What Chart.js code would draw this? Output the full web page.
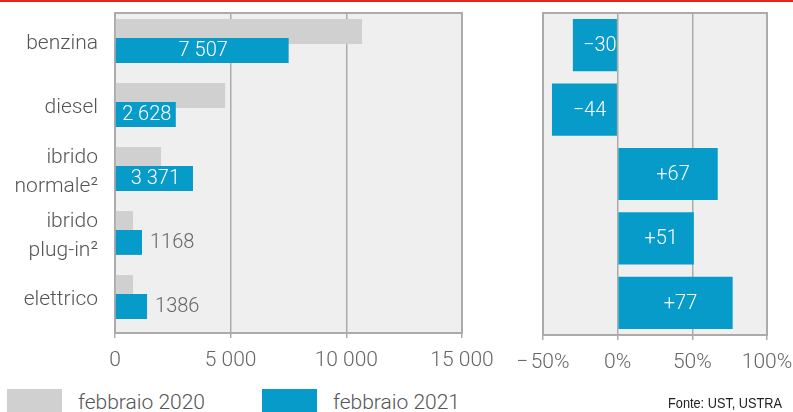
<!DOCTYPE html>
<html lang="it">
<head>
  <meta charset="UTF-8" />
  <title>Immatricolazioni febbraio</title>
  <script src="https://cdn.jsdelivr.net/npm/chart.js"></script>
  <style>
    * { box-sizing: border-box; }
    body {
      margin: 0;
      width: 793px;
      height: 412px;
      overflow: hidden;
      background: #fff;
      font-family: 'Roboto', sans-serif;
      font-weight: 300;
      color: #555;
      position: relative;
    }
    .topline {
      position: absolute; left: 0; top: 0; width: 793px; height: 2px;
      background: #e3241b;
    }
    .chart-left { position: absolute; left: 0; top: 0; width: 520px; height: 372px; }
    .chart-right { position: absolute; left: 500px; top: 0; width: 320px; height: 374px; }
    .legend { position: absolute; top: 389px; font-size: 21px; color: #555; }
    .legend span.box { position: absolute; top: 0; width: 55px; height: 24px; }
    .legend span.txt { position: absolute; top: 1px; white-space: nowrap; line-height: 24px; }
    .source {
      position: absolute; left: 668px; top: 394px;
      font-family: 'Liberation Sans', Arial, sans-serif;
      font-weight: normal;
      font-size: 15px; color: #222; white-space: nowrap;
      transform: scaleX(0.85); transform-origin: left top;
    }
  </style>
</head>
<body>
  <div class="topline"></div>
  <div class="chart-left"><canvas id="leftChart"></canvas></div>
  <div class="chart-right"><canvas id="rightChart"></canvas></div>

  <div class="legend" style="left:7px">
    <span class="box" style="left:0;background:#d0d0d0"></span>
    <span class="txt" style="left:71px">febbraio 2020</span>
  </div>
  <div class="legend" style="left:262px">
    <span class="box" style="left:0;background:#069bc9"></span>
    <span class="txt" style="left:71px">febbraio 2021</span>
  </div>
  <div class="source">Fonte: UST, USTRA</div>

  <script>
    // data
    const categories = ['benzina', 'diesel', ['ibrido', 'normale²'], ['ibrido', 'plug-in²'], 'elettrico'];
    const feb2020 = [10680, 4760, 1990, 780, 780];
    const feb2021 = [7507, 2628, 3371, 1168, 1386];
    const changePct = [-30, -44, 67, 51, 77];
    const leftTicks = [0, 5000, 10000, 15000];
    const rightTicks = [-50, 0, 50, 100];

    const GREY = '#d0d0d0';
    const BLUE = '#069bc9';
    const PLOT_BG = '#efefef';
    const LINE = '#ababab';
    const PAIR_NUDGE = -4; // the bar pairs sit a little above the row centre

    Chart.defaults.font.family = 'Roboto, sans-serif';
    Chart.defaults.font.size = 20;
    Chart.defaults.font.weight = 300;
    Chart.defaults.color = '#666';
    Chart.defaults.animation = false;

    function fmtNum(n) {
      const s = String(Math.abs(n));
      const out = (Math.abs(n) < 2000) ? s : s.replace(/\B(?=(\d{3})+(?!\d))/g, ' ');
      return (n < 0 ? '\u2212' : '') + out;
    }

    function fmtPct(n) {
      return (n < 0 ? '\u2212\u200A' + Math.abs(n) : String(n)) + '%';
    }

    // grey plot background and frame
    const plotBox = {
      id: 'plotBox',
      beforeDraw(chart) {
        const a = chart.chartArea, c = chart.ctx;
        c.save();
        c.fillStyle = PLOT_BG;
        c.fillRect(a.left, a.top, a.right - a.left, a.bottom - a.top);
        c.restore();
      },
      beforeDatasetsDraw(chart) {
        const a = chart.chartArea, c = chart.ctx;
        c.save();
        c.strokeStyle = LINE;
        c.lineWidth = 2;
        c.strokeRect(a.left, a.top, a.right - a.left, a.bottom - a.top);
        c.restore();
      }
    };

    // 2021 bars have to lie over the 2020 bars
    const drawOrder = {
      id: 'drawOrder',
      beforeDatasetsDraw(chart) {
        chart.ctx.save();
        chart.ctx.translate(0, PAIR_NUDGE);
      },
      beforeDatasetDraw(chart, args) {
        if (args.index === 0) return false;
        if (args.index === 1) chart.getDatasetMeta(0).controller.draw();
      },
      afterDatasetsDraw(chart) {
        chart.ctx.restore();
      }
    };

    // category names on the left, placed by the y scale
    const categoryNames = {
      id: 'categoryNames',
      afterDraw(chart) {
        const c = chart.ctx, y = chart.scales.y, a = chart.chartArea;
        c.save();
        c.font = '300 21px Roboto, sans-serif';
        c.fillStyle = '#555';
        c.textAlign = 'right';
        c.textBaseline = 'middle';
        categories.forEach((name, i) => {
          const lines = Array.isArray(name) ? name : [name];
          const cy = y.getPixelForValue(i);
          const lh = 29;
          lines.forEach((ln, k) => {
            c.fillText(ln, a.left - 17, cy - 1 + (k - (lines.length - 1) / 2) * lh);
          });
        });
        c.restore();
      }
    };

    const leftLabels = {
      id: 'leftLabels',
      afterDatasetsDraw(chart) {
        const c = chart.ctx;
        const meta = chart.getDatasetMeta(1);
        c.save();
        c.font = '300 20px Roboto, sans-serif';
        c.textBaseline = 'middle';
        meta.data.forEach((bar, i) => {
          const txt = fmtNum(feb2021[i]);
          const tw = c.measureText(txt).width;
          const w = bar.x - bar.base;
          if (w > tw + 4) {
            c.fillStyle = '#fff';
            c.textAlign = 'center';
            c.fillText(txt, (bar.x + bar.base) / 2 + 1, bar.y + 1);
          } else {
            c.fillStyle = '#666';
            c.textAlign = 'left';
            c.fillText(txt, bar.x + 8, bar.y + 1);
          }
        });
        c.restore();
      }
    };

    const rightLabels = {
      id: 'rightLabels',
      afterDatasetsDraw(chart) {
        const c = chart.ctx;
        const meta = chart.getDatasetMeta(0);
        c.save();
        c.font = '300 20px Roboto, sans-serif';
        c.textBaseline = 'middle';
        c.textAlign = 'center';
        c.fillStyle = '#fff';
        meta.data.forEach((bar, i) => {
          const v = changePct[i];
          const txt = v < 0 ? '\u2212' + Math.abs(v) : '+' + v;
          c.fillText(txt, (bar.x + bar.base) / 2 + 5, bar.y + 1);
        });
        c.restore();
      }
    };

    new Chart(document.getElementById('leftChart'), {
      type: 'bar',
      data: {
        labels: categories,
        datasets: [
          { label: 'febbraio 2020', data: feb2020, backgroundColor: GREY, categoryPercentage: 0.59, barPercentage: 1.32 },
          { label: 'febbraio 2021', data: feb2021, backgroundColor: BLUE, categoryPercentage: 0.59, barPercentage: 1.32 }
        ]
      },
      options: {
        indexAxis: 'y',
        responsive: true,
        maintainAspectRatio: false,
        layout: { padding: { top: 13, right: 58, left: 115, bottom: 0 } },
        plugins: { legend: { display: false }, tooltip: { enabled: false } },
        scales: {
          x: {
            min: leftTicks[0],
            max: leftTicks[leftTicks.length - 1],
            afterBuildTicks: s => { s.ticks = leftTicks.map(v => ({ value: v })); },
            afterFit: s => { s.height = 39; },
            ticks: { padding: 10, color: '#666', font: { size: 21, weight: 300 }, callback: v => fmtNum(v), maxRotation: 0 },
            grid: { color: LINE, lineWidth: 1.5, tickLength: 5, tickColor: LINE },
            border: { color: LINE, width: 2 }
          },
          y: { display: false }
        }
      },
      plugins: [plotBox, leftLabels, drawOrder, categoryNames]
    });

    new Chart(document.getElementById('rightChart'), {
      type: 'bar',
      data: {
        labels: categories,
        datasets: [
          { label: 'variazione %', data: changePct, backgroundColor: BLUE, categoryPercentage: 1, barPercentage: 0.81 }
        ]
      },
      options: {
        indexAxis: 'y',
        responsive: true,
        maintainAspectRatio: false,
        layout: { padding: { top: 13, right: 53, left: 43, bottom: 0 } },
        plugins: { legend: { display: false }, tooltip: { enabled: false } },
        scales: {
          x: {
            min: rightTicks[0],
            max: rightTicks[rightTicks.length - 1],
            afterBuildTicks: s => { s.ticks = rightTicks.map(v => ({ value: v })); },
            afterFit: s => { s.height = 39; },
            ticks: { padding: 10, color: '#666', font: { size: 21, weight: 300 }, callback: v => fmtPct(v), maxRotation: 0 },
            grid: { color: LINE, lineWidth: 1.5, tickLength: 5, tickColor: LINE },
            border: { color: LINE, width: 2 }
          },
          y: { display: false }
        }
      },
      plugins: [plotBox, rightLabels]
    });
  </script>
</body>
</html>
